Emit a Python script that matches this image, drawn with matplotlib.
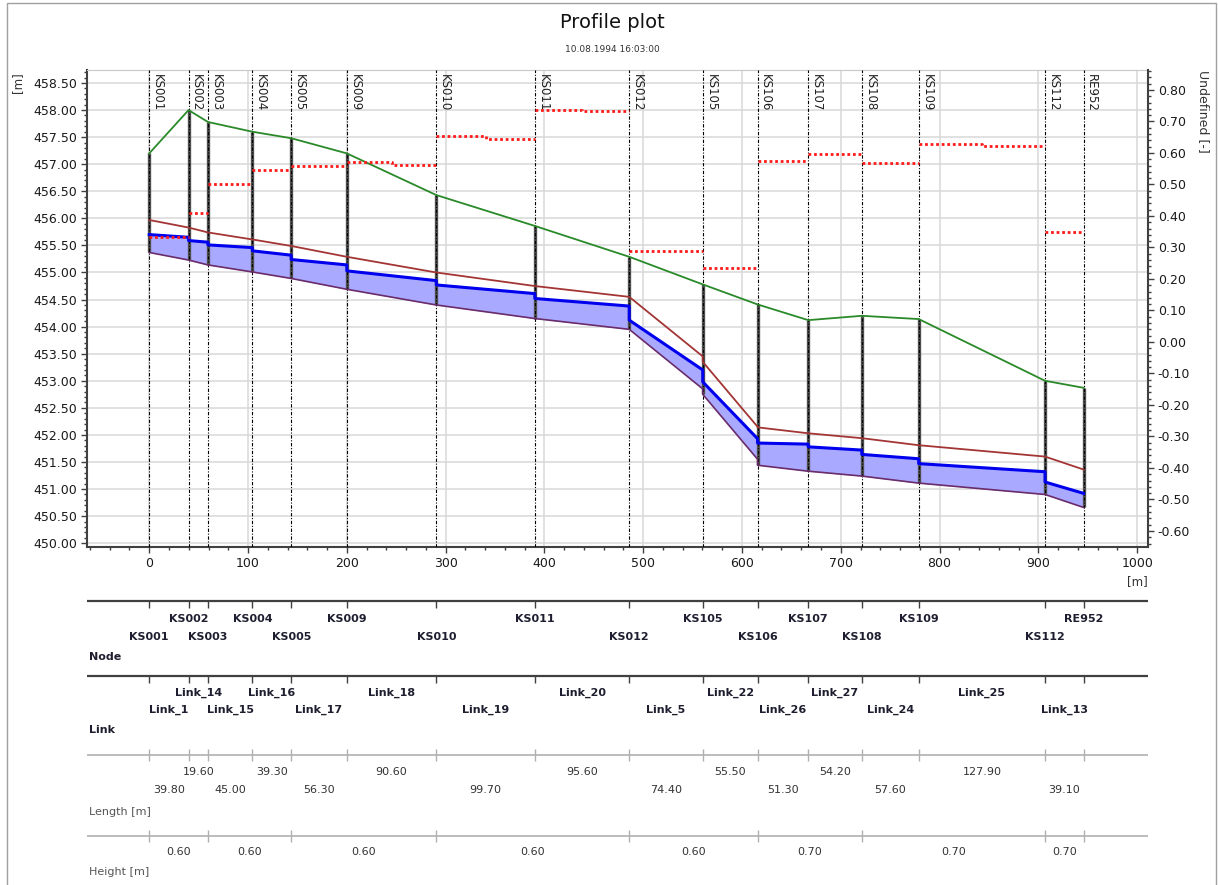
import numpy as np
import matplotlib
matplotlib.use("Agg")
import matplotlib.pyplot as plt
import matplotlib.transforms as mtransforms
from matplotlib.ticker import MultipleLocator, FuncFormatter
from matplotlib.patches import Rectangle

# --- data ------------------------------------------------------------------
nodes = ["KS001", "KS002", "KS003", "KS004", "KS005", "KS009", "KS010", "KS011",
         "KS012", "KS105", "KS106", "KS107", "KS108", "KS109", "KS112", "RE952"]
links = ["Link_1", "Link_14", "Link_15", "Link_16", "Link_17", "Link_18", "Link_19",
         "Link_20", "Link_5", "Link_22", "Link_26", "Link_27", "Link_24", "Link_25",
         "Link_13"]
link_length = [39.80, 19.60, 45.00, 39.30, 56.30, 90.60, 99.70, 95.60,
               74.40, 55.50, 51.30, 54.20, 57.60, 127.90, 39.10]
link_height = [0.60, 0.60, 0.60, 0.60, 0.60, 0.60, 0.60, 0.60,
               0.60, 0.60, 0.70, 0.70, 0.70, 0.70, 0.70]

ground = [457.20, 458.00, 457.78, 457.60, 457.48, 457.20, 456.43, 455.86,
          455.29, 454.78, 454.41, 454.12, 454.20, 454.14, 453.00, 452.87]

invert_up = [455.37, 455.23, 455.14, 455.01, 454.89, 454.69, 454.40, 454.15,
             453.95, 452.75, 451.44, 451.33, 451.24, 451.11, 450.90]
invert_down = [455.23, 455.14, 455.01, 454.89, 454.69, 454.40, 454.15, 453.95,
               452.85, 451.55, 451.33, 451.24, 451.11, 450.90, 450.66]

water_up = [455.70, 455.59, 455.51, 455.40, 455.24, 455.03, 454.77, 454.52,
            454.12, 452.98, 451.85, 451.78, 451.64, 451.47, 451.13]
water_down = [455.65, 455.56, 455.46, 455.32, 455.14, 454.85, 454.61, 454.38,
              453.20, 451.93, 451.83, 451.72, 451.56, 451.32, 450.92]

# right axis series ("Undefined [-]"), first and second half of each link
undef_first = [0.333, 0.41, 0.50, 0.545, 0.56, 0.571, 0.654, 0.737,
               0.29, 0.235, 0.575, 0.597, 0.567, 0.629, 0.35]
undef_second = [0.333, 0.41, 0.50, 0.545, 0.56, 0.563, 0.643, 0.732,
                0.29, 0.235, 0.575, 0.597, 0.567, 0.621, 0.35]

# height row of the table: groups given by node index bounds
height_bounds = [0, 2, 4, 6, 8, 10, 12, 14, 15]
height_vals = [0.60, 0.60, 0.60, 0.60, 0.60, 0.70, 0.70, 0.70]

chainage = np.concatenate([[0.0], np.cumsum(link_length)])
n_links = len(links)

W, H = 1218, 885
fig = plt.figure(figsize=(W / 100, H / 100), dpi=100)
plt.rcParams["font.family"] = "DejaVu Sans"

ax_l, ax_r, ax_t, ax_b = 87, 1148, 70, 547
ax = fig.add_axes([ax_l / W, 1 - ax_b / H, (ax_r - ax_l) / W, (ax_b - ax_t) / H])
ax2 = ax.twinx()

xlim = (-63, 1011)
ax.set_xlim(*xlim)
ax.set_ylim(449.93, 458.74)
ax2.set_ylim(-0.651, 0.8635)

# pipe fill and profile lines
px, inv, crown, wat = [], [], [], []
for i in range(n_links):
    xs = [chainage[i], chainage[i + 1]]
    ax.fill_between(xs, [invert_up[i], invert_down[i]], [water_up[i], water_down[i]],
                    color="#a9a9ff", lw=0, zorder=2)
    px += xs
    inv += [invert_up[i], invert_down[i]]
    crown += [invert_up[i] + link_height[i], invert_down[i] + link_height[i]]
    wat += [water_up[i], water_down[i]]

# manholes
bottoms = []
for j in range(len(nodes)):
    cand = []
    if j > 0:
        cand.append(invert_down[j - 1])
    if j < n_links:
        cand.append(invert_up[j])
    bottoms.append(min(cand))
ax.vlines(chainage, bottoms, ground, color="#505050", lw=2.4, zorder=3)

for x in chainage:
    ax.axvline(x, color="black", lw=0.8, dashes=(3, 1.5, 1, 1.5), zorder=4)

ax.plot(px, inv, color="#6a2c6a", lw=1.2, zorder=5)
ax.plot(px, crown, color="#a33535", lw=1.3, zorder=5)
ax.plot(px, wat, color="#0000ee", lw=2.2, zorder=6)
ax.plot(chainage, ground, color="#2a8a2a", lw=1.3, zorder=6)

for i in range(n_links):
    x0, x1 = chainage[i], chainage[i + 1]
    xm = 0.5 * (x0 + x1)
    ax2.plot([x0, xm, xm, x1], [undef_first[i], undef_first[i], undef_second[i], undef_second[i]],
             color="#ff1a1a", lw=2, linestyle=(0, (1, 1)), zorder=5)

for x, name in zip(chainage, nodes):
    ax.annotate(name, xy=(x, 1), xycoords=("data", "axes fraction"),
                xytext=(1.2, -3), textcoords="offset points", rotation=270,
                ha="left", va="top", fontsize=8.5, color="#202020", zorder=7)

# axes styling
ax.grid(True, color="#d9d9d9", lw=1.1, zorder=0)
ax.set_axisbelow(True)
ax.xaxis.set_major_locator(MultipleLocator(100))
ax.xaxis.set_minor_locator(MultipleLocator(20))
ax.yaxis.set_major_locator(MultipleLocator(0.5))
ax.yaxis.set_minor_locator(MultipleLocator(0.1))
ax.yaxis.set_major_formatter(FuncFormatter(lambda v, p: f"{v:.2f}"))
ax2.yaxis.set_major_locator(MultipleLocator(0.1))
ax2.yaxis.set_minor_locator(MultipleLocator(0.02))
ax2.yaxis.set_major_formatter(FuncFormatter(lambda v, p: f"{round(v, 2) + 0.0:.2f}"))

for a in (ax, ax2):
    a.tick_params(which="major", length=4, width=1, color="#404040", labelsize=9,
                  labelcolor="#1a1a1a", pad=3)
    a.tick_params(which="minor", length=2.5, width=1, color="#404040")
ax.spines["right"].set_visible(False)
ax.spines["top"].set_color("#c8c8c8")
for s in ("left", "bottom"):
    ax.spines[s].set_color("#404040")
    ax.spines[s].set_linewidth(1.5)
for s in ("left", "bottom", "top"):
    ax2.spines[s].set_visible(False)
ax2.spines["right"].set_color("#404040")
ax2.spines["right"].set_linewidth(1.5)

fig.text(18 / W, 1 - 72 / H, "[m]", rotation=90, ha="center", va="top", fontsize=8.5, color="#333333")
fig.text(1203 / W, 1 - 70 / H, "Undefined [-]", rotation=270, ha="center", va="top",
         fontsize=9, color="#333333")
fig.text(1137 / W, 1 - 582 / H, "[m]", ha="center", va="center", fontsize=8.5, color="#333333")

fig.text(612 / W, 1 - 22 / H, "Profile plot", ha="center", va="center", fontsize=14, color="#111111")
fig.text(612 / W, 1 - 50 / H, "10.08.1994 16:03:00", ha="center", va="center", fontsize=6.5,
         color="#333333")

# --- table below the plot -------------------------------------------------
tab = fig.add_axes([ax_l / W, 0, (ax_r - ax_l) / W, 1 - 590 / H])
tab.set_xlim(*xlim)
tab.set_ylim(H, 590)
tab.axis("off")
lbl_tr = mtransforms.blended_transform_factory(tab.transAxes, tab.transData)

link_mid = 0.5 * (chainage[:-1] + chainage[1:])
link_len_txt = [f"{v:.2f}" for v in link_length]

rows = [
    # line y, tick from, tick to, upper y, lower y, label y, label, colour, dark
    (601, 601, 608, 619, 637, 657, "Node", "#404040", True),
    (676, 676, 683, 693, 710, 730, "Link", "#404040", True),
    (755, 749, 761, 772, 790, 812, "Length [m]", "#b0b0b0", False),
]
row_items = [(chainage, nodes), (link_mid, links), (link_mid, link_len_txt)]

for (ly, t0, t1, yu, yl, yb, name, col, dark), (xs, labels) in zip(rows, row_items):
    tab.axhline(ly, color=col, lw=1.6 if dark else 1.2)
    tab.vlines(chainage, t0, t1, color=col, lw=1)
    for k, (x, t) in enumerate(zip(xs, labels)):
        y = yl if k % 2 == 0 else yu
        tab.text(x, y, t, ha="center", va="center", fontsize=8,
                 fontweight="bold" if dark else "normal",
                 color="#1e1e30" if dark else "#333333")
    tab.text(0.002, yb, name, transform=lbl_tr, ha="left", va="center", fontsize=8,
             fontweight="bold" if dark else "normal",
             color="#1e1e30" if dark else "#555555")

hb = chainage[height_bounds]
tab.axhline(836, color="#b0b0b0", lw=1.2)
tab.vlines(hb, 830, 842, color="#b0b0b0", lw=1)
for k, v in enumerate(height_vals):
    tab.text(0.5 * (hb[k] + hb[k + 1]), 852, f"{v:.2f}", ha="center", va="center",
             fontsize=8, color="#333333")
tab.text(0.002, 872, "Height [m]", transform=lbl_tr, ha="left", va="center", fontsize=8,
         color="#555555")

fig.add_artist(Rectangle((7 / W, -0.01), (1216 - 7) / W, 1.01 - 3 / H, transform=fig.transFigure,
                         fill=False, edgecolor="#a0a0a0", lw=1))

fig.savefig("out.png", dpi=100)
